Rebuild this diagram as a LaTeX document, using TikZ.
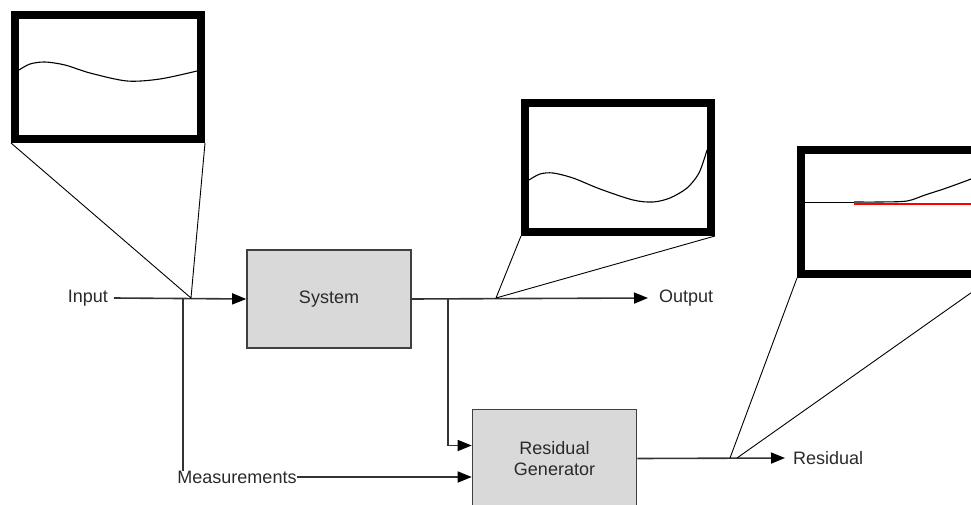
\documentclass[tikz,border=0pt]{standalone}
\usepackage{fontspec}
\setmainfont{Liberation Sans}
\usetikzlibrary{arrows.meta,calc}
\definecolor{blockfill}{HTML}{D9D9D9}
\definecolor{blockline}{HTML}{404040}
\definecolor{wire}{HTML}{333333}
\definecolor{labeltext}{HTML}{2A2A2A}
\definecolor{limit}{HTML}{FF0000}
\tikzset{
  block/.style={draw=blockline, line width=1.6pt, fill=blockfill,
    minimum width=164pt, minimum height=98pt, inner sep=0pt,
    text=labeltext, align=center, font=\fontsize{18}{21}\selectfont},
  label/.style={inner sep=0pt, text=labeltext, font=\fontsize{18}{21}\selectfont},
  wire/.style={draw=wire, line width=1.6pt},
  sig/.style={wire, -{Triangle[length=14pt,width=11pt,color=black]}},
  scope frame/.style={draw=black, line width=8pt},
  zoomline/.style={draw=black, line width=0.9pt},
  trace/.style={draw=black, line width=1.1pt},
}
\begin{document}
\begin{tikzpicture}[x=1pt, y=-1pt]
\useasboundingbox (0,0) rectangle (971,505);
\clip (0,0) rectangle (971,505);

% blocks
\node[block] (sys) at (329,299) {System};
\node[block] (rg) at (554.5,458.5) {Residual\\Generator};

% labels
\node[label, anchor=east] (input) at (108,298) {Input};
\node[label, anchor=west] (out) at (659,298) {Output};
\node[label] (meas) at (237,477) {Measurements};
\node[label, anchor=west] (res) at (793,458) {Residual};

% junction points on the wires
\coordinate (jin) at (191,298);
\coordinate (jv) at (183,298);
\coordinate (jout) at (496,298);
\coordinate (jb) at (448,298);
\coordinate (jr1) at (730,458);
\coordinate (jr2) at (737,458);

% signal wires
\draw[sig] ([xshift=6pt]input.east) -- (sys.west);
\draw[wire] (jv) -- (jv |- meas.north);
\draw[sig] (sys.east) -- ([xshift=-11pt]out.west);
\draw[sig] (jb) |- ([yshift=13pt]rg.west);
\draw[sig] (meas.east) -- (rg.west |- meas.east);
\draw[sig] (rg.east) -- ([xshift=-8pt]res.west);

% scope 1: input signal
\coordinate (s1a) at (11,143);
\coordinate (s1b) at (205,143);
\draw[scope frame] (15,15) rectangle (201,139);
\draw[trace] plot[smooth] coordinates {(19,70) (30,64) (45,62) (65,65) (90,73) (127,81) (160,79) (197,71)};
\draw[zoomline] (s1a) -- (jin) -- (s1b);

% scope 2: output signal
\coordinate (s2a) at (521,236);
\coordinate (s2b) at (715,236);
\draw[scope frame] (525,103) rectangle (711,232);
\draw[trace] plot[smooth] coordinates {(529,180) (540,174) (553,173) (573,178) (600,189) (633,200) (653,202) (670,198) (687,188) (699,173) (707,150)};
\draw[zoomline] (s2a) -- (jout) -- (s2b);

% scope 3: residual against threshold
\coordinate (s3a) at (797,278);
\coordinate (s3b) at (992,278);
\draw[scope frame] (801,150) rectangle (988,274);
\draw[limit, line width=1.5pt] (854,204) -- (984,204);
\draw[trace] (805,202.5) -- (854,202.5);
\draw[trace] plot[smooth] coordinates {(854,202) (880,202) (907,201) (925,195) (945,188.5) (971,179) (984,173)};
\draw[zoomline] (s3a) -- (jr1);
\draw[zoomline] (s3b) -- (jr2);
\end{tikzpicture}
\end{document}
